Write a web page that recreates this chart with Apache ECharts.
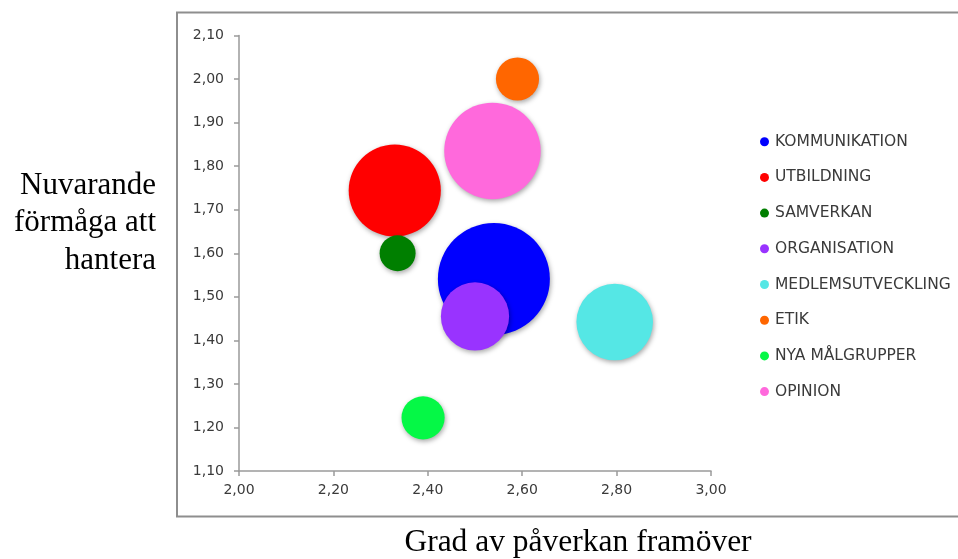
<!DOCTYPE html>
<html>
<head>
<meta charset="utf-8">
<script src="https://cdn.jsdelivr.net/npm/echarts@6/dist/echarts.min.js"></script>
<style>
  html, body { margin: 0; padding: 0; background: #fff; }
  #chart { width: 958px; height: 559px; }
</style>
</head>
<body>
<div id="chart"></div>
<script>
// Areas and their scores
const categories = ['KOMMUNIKATION', 'UTBILDNING', 'SAMVERKAN', 'ORGANISATION',
  'MEDLEMSUTVECKLING', 'ETIK', 'NYA MÅLGRUPPER', 'OPINION'];
// Grad av påverkan framöver
const impact = [2.54, 2.33, 2.336, 2.50, 2.796, 2.59, 2.39, 2.537];
// Nuvarande förmåga att hantera
const capability = [1.541, 1.744, 1.60, 1.455, 1.442, 2.00, 1.222, 1.835];
// Bubble weight (area-proportional)
const weight = [31, 21, 3.2, 11.5, 14.5, 4.6, 4.6, 23];
const colors = ['#0000ff', '#ff0000', '#007f00', '#9933ff', '#55e7e5', '#ff6600', '#05f846', '#ff69dc'];

const xTicks = { min: 2.0, max: 3.0, interval: 0.2 };
const yTicks = { min: 1.1, max: 2.1, interval: 0.1 };

const maxWeight = Math.max(...weight);
const maxDiameter = 112;
const sizeOf = v => maxDiameter * Math.sqrt(v / maxWeight);
const fmt = v => v.toFixed(2).replace('.', ',');

const axisLine = { lineStyle: { color: '#9a9a9a', width: 1.5 } };
const labelStyle = { color: '#3a3a3a', fontFamily: 'DejaVu Sans', fontSize: 14 };

const series = categories.map((name, i) => ({
  name,
  type: 'scatter',
  data: [[impact[i], capability[i], weight[i]]],
  symbolSize: d => sizeOf(d[2]),
  itemStyle: {
    color: colors[i],
    opacity: 1,
    shadowBlur: 5,
    shadowOffsetX: 1,
    shadowOffsetY: 2,
    shadowColor: 'rgba(0,0,0,0.35)'
  },
  emphasis: { disabled: true }
}));

const chart = echarts.init(document.getElementById('chart'), null, { renderer: 'canvas' });
chart.setOption({
  animation: false,
  backgroundColor: '#ffffff',
  grid: { left: 239, right: 247, top: 35.5, bottom: 88 },
  xAxis: {
    type: 'value',
    min: xTicks.min, max: xTicks.max, interval: xTicks.interval,
    axisLine: { show: true, ...axisLine },
    axisTick: { show: true, length: 5, lineStyle: { color: '#9a9a9a', width: 1.5 } },
    axisLabel: { ...labelStyle, margin: 12, formatter: fmt },
    splitLine: { show: false }
  },
  yAxis: {
    type: 'value',
    min: yTicks.min, max: yTicks.max, interval: yTicks.interval,
    axisLine: { show: true, ...axisLine },
    axisTick: { show: true, length: 5, lineStyle: { color: '#9a9a9a', width: 1.5 } },
    axisLabel: { ...labelStyle, margin: 15, formatter: fmt },
    splitLine: { show: false }
  },
  legend: {
    orient: 'vertical',
    left: 755,
    top: 128.7,
    icon: 'circle',
    itemWidth: 9,
    itemHeight: 9,
    itemGap: 19.7,
    itemStyle: { shadowBlur: 0, shadowOffsetX: 0, shadowOffsetY: 0 },
    textStyle: { color: '#3a3a3a', fontFamily: 'DejaVu Sans', fontSize: 15.5, lineHeight: 16, padding: [0, 0, 0, 1] },
    data: categories
  },
  graphic: [
    {
      type: 'rect',
      shape: { x: 177, y: 12.5, width: 820, height: 504 },
      style: { fill: 'none', stroke: '#8e8e8e', lineWidth: 2 },
      silent: true, z: -1
    },
    {
      type: 'text',
      x: 156, y: 223,
      style: {
        text: 'Nuvarande\nförmåga att\nhantera',
        fill: '#000', font: '31px "Liberation Serif", "Times New Roman", serif',
        textAlign: 'right', textVerticalAlign: 'middle', lineHeight: 37.5
      },
      silent: true
    },
    {
      type: 'text',
      x: 578, y: 543,
      style: {
        text: 'Grad av påverkan framöver',
        fill: '#000', font: '31.5px "Liberation Serif", "Times New Roman", serif',
        textAlign: 'center', textVerticalAlign: 'middle'
      },
      silent: true
    }
  ],
  series
});
</script>
</body>
</html>
